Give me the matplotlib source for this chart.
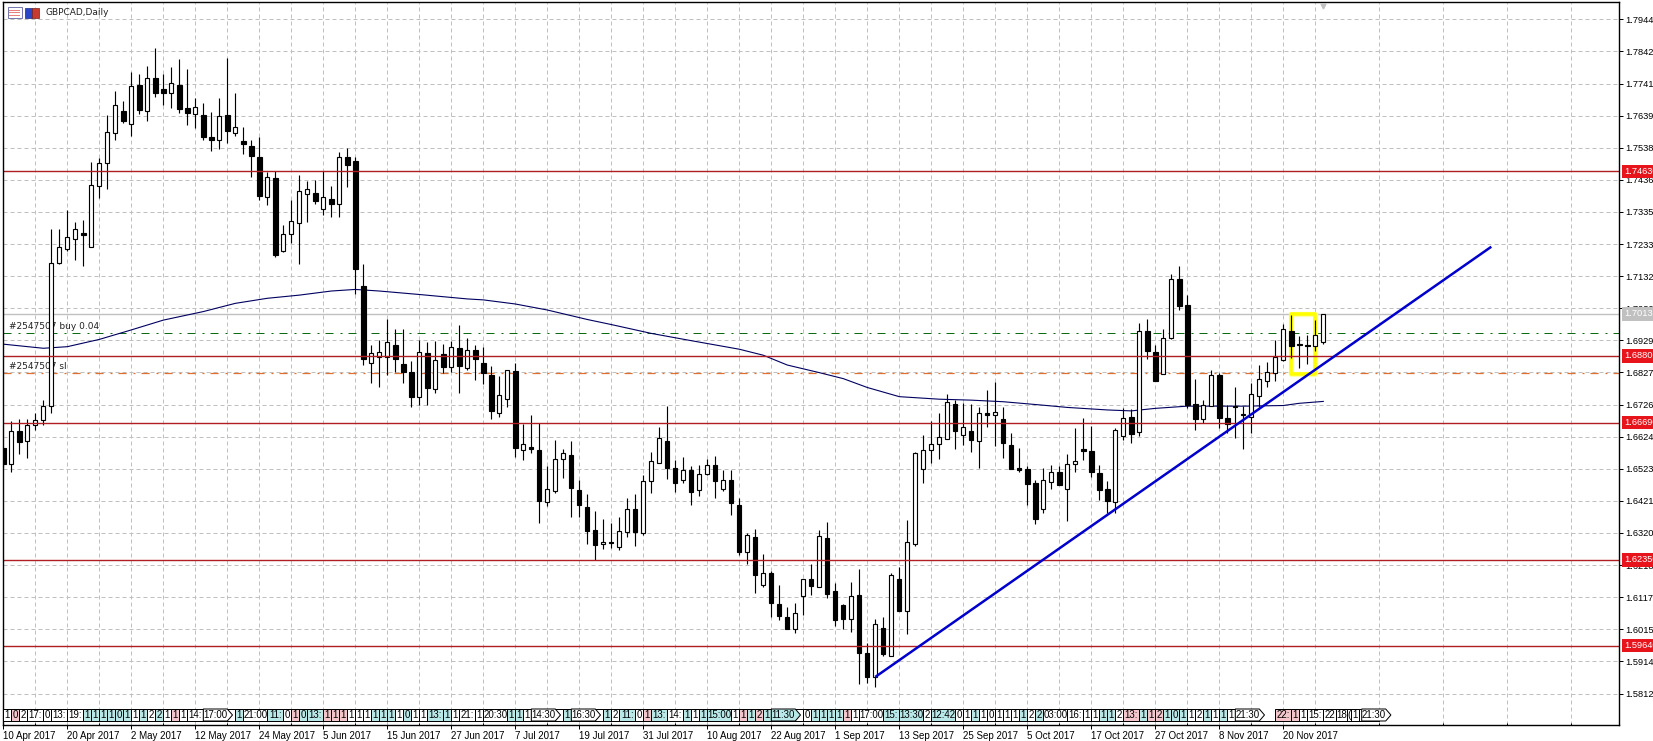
import matplotlib
matplotlib.use('Agg')
import matplotlib.pyplot as plt
from matplotlib.patches import Polygon, Rectangle
import numpy as np

# GBPCAD daily candles
opens = [1.6590, 1.6537, 1.6642, 1.6610, 1.6660, 1.6678, 1.6723, 1.7172, 1.7219, 1.7250,
         1.7268, 1.7225, 1.7418, 1.7489, 1.7583, 1.7654, 1.7614, 1.7736, 1.7655, 1.7758,
         1.7724, 1.7712, 1.7736, 1.7664, 1.7646, 1.7641, 1.7572, 1.7563, 1.7641, 1.7586,
         1.7559, 1.7543, 1.7509, 1.7383, 1.7442, 1.7212, 1.7264, 1.7301, 1.7393, 1.7395,
         1.7345, 1.7376, 1.7361, 1.7509, 1.7496, 1.7101, 1.6856, 1.6875, 1.6877, 1.6913,
         1.6854, 1.6830, 1.6751, 1.6888, 1.6776, 1.6885, 1.6846, 1.6905, 1.6842, 1.6900,
         1.6857, 1.6819, 1.6700, 1.6744, 1.6832, 1.6583, 1.6592, 1.6582, 1.6419, 1.6453,
         1.6555, 1.6566, 1.6455, 1.6401, 1.6328, 1.6286, 1.6293, 1.6276, 1.6324, 1.6395,
         1.6321, 1.6483, 1.6540, 1.6611, 1.6524, 1.6489, 1.6519, 1.6455, 1.6505, 1.6534,
         1.6460, 1.6489, 1.6407, 1.6261, 1.6306, 1.6156, 1.6195, 1.6097, 1.6056, 1.6015,
         1.6122, 1.6173, 1.6148, 1.6304, 1.6136, 1.6092, 1.6047, 1.6123, 1.5942, 1.5865,
         1.6021, 1.5930, 1.6176, 1.6074, 1.6285, 1.6523, 1.6581, 1.6600, 1.6616, 1.6727,
         1.6629, 1.6644, 1.6610, 1.6698, 1.6694, 1.6679, 1.6598, 1.6524, 1.6522, 1.6478,
         1.6397, 1.6480, 1.6512, 1.6460, 1.6539, 1.6584, 1.6579, 1.6509, 1.6459, 1.6419,
         1.6627, 1.6686, 1.6640, 1.6958, 1.6891, 1.6824, 1.6937, 1.7123, 1.7041, 1.6727,
         1.6679, 1.6723, 1.6818, 1.6682, 1.6717, 1.6692, 1.6688, 1.6754, 1.6801, 1.6825,
         1.6868, 1.6958, 1.6919, 1.6914, 1.6910, 1.6923]
highs = [1.6590, 1.6674, 1.6680, 1.6680, 1.6700, 1.6740, 1.7281, 1.7281, 1.7340, 1.7302,
         1.7309, 1.7492, 1.7504, 1.7640, 1.7716, 1.7685, 1.7776, 1.7771, 1.7796, 1.7852,
         1.7771, 1.7793, 1.7817, 1.7786, 1.7694, 1.7678, 1.7651, 1.7694, 1.7822, 1.7710,
         1.7602, 1.7561, 1.7572, 1.7460, 1.7464, 1.7294, 1.7373, 1.7451, 1.7432, 1.7436,
         1.7464, 1.7417, 1.7523, 1.7537, 1.7508, 1.7169, 1.6914, 1.6930, 1.6995, 1.6964,
         1.6964, 1.6865, 1.6930, 1.6925, 1.6927, 1.6917, 1.6928, 1.6977, 1.6938, 1.6914,
         1.6909, 1.6848, 1.6816, 1.6835, 1.6856, 1.6664, 1.6693, 1.6669, 1.6532, 1.6614,
         1.6584, 1.6611, 1.6489, 1.6442, 1.6389, 1.6363, 1.6353, 1.6369, 1.6432, 1.6442,
         1.6503, 1.6575, 1.6656, 1.6721, 1.6550, 1.6559, 1.6532, 1.6535, 1.6553, 1.6563,
         1.6519, 1.6519, 1.6432, 1.6319, 1.6334, 1.6253, 1.6201, 1.6155, 1.6085, 1.6100,
         1.6176, 1.6221, 1.6331, 1.6354, 1.6161, 1.6097, 1.6164, 1.6205, 1.5971, 1.6047,
         1.6053, 1.6195, 1.6211, 1.6361, 1.6576, 1.6630, 1.6673, 1.6698, 1.6759, 1.6740,
         1.6730, 1.6728, 1.6717, 1.6772, 1.6797, 1.6717, 1.6635, 1.6588, 1.6533, 1.6487,
         1.6527, 1.6535, 1.6533, 1.6570, 1.6651, 1.6685, 1.6658, 1.6535, 1.6484, 1.6651,
         1.6714, 1.6711, 1.6985, 1.6998, 1.6914, 1.6964, 1.7139, 1.7164, 1.7072, 1.6806,
         1.6740, 1.6835, 1.6827, 1.6724, 1.6780, 1.6721, 1.6795, 1.6851, 1.6860, 1.6930,
         1.6981, 1.7009, 1.6943, 1.6946, 1.6993, 1.7013]
lows = [1.6529, 1.6514, 1.6571, 1.6558, 1.6645, 1.6661, 1.6700, 1.7169, 1.7212, 1.7183,
        1.7164, 1.7225, 1.7380, 1.7407, 1.7562, 1.7616, 1.7575, 1.7645, 1.7623, 1.7698,
        1.7673, 1.7664, 1.7649, 1.7610, 1.7600, 1.7562, 1.7528, 1.7535, 1.7554, 1.7576,
        1.7518, 1.7446, 1.7373, 1.7358, 1.7193, 1.7209, 1.7236, 1.7171, 1.7303, 1.7360,
        1.7325, 1.7319, 1.7319, 1.7414, 1.7076, 1.6851, 1.6795, 1.6782, 1.6818, 1.6830,
        1.6795, 1.6719, 1.6724, 1.6724, 1.6763, 1.6827, 1.6830, 1.6763, 1.6835, 1.6803,
        1.6791, 1.6681, 1.6688, 1.6719, 1.6561, 1.6550, 1.6574, 1.6352, 1.6405, 1.6447,
        1.6495, 1.6371, 1.6371, 1.6286, 1.6236, 1.6269, 1.6273, 1.6266, 1.6308, 1.6279,
        1.6315, 1.6447, 1.6540, 1.6490, 1.6449, 1.6479, 1.6409, 1.6437, 1.6503, 1.6430,
        1.6453, 1.6378, 1.6250, 1.6222, 1.6131, 1.6150, 1.6055, 1.6045, 1.6015, 1.6005,
        1.6060, 1.6124, 1.6148, 1.6116, 1.6027, 1.6018, 1.6008, 1.5844, 1.5846, 1.5834,
        1.5932, 1.5930, 1.6074, 1.6002, 1.6280, 1.6479, 1.6542, 1.6555, 1.6616, 1.6586,
        1.6599, 1.6576, 1.6525, 1.6656, 1.6595, 1.6558, 1.6523, 1.6513, 1.6409, 1.6348,
        1.6384, 1.6460, 1.6473, 1.6359, 1.6513, 1.6550, 1.6498, 1.6424, 1.6382, 1.6382,
        1.6614, 1.6605, 1.6627, 1.6870, 1.6801, 1.6824, 1.6932, 1.7025, 1.6714, 1.6645,
        1.6669, 1.6723, 1.6651, 1.6635, 1.6621, 1.6585, 1.6637, 1.6719, 1.6782, 1.6800,
        1.6865, 1.6874, 1.6842, 1.6854, 1.6896, 1.6916]
closes = [1.6538, 1.6641, 1.6608, 1.6660, 1.6678, 1.6723, 1.7175, 1.7223, 1.7255, 1.7280,
          1.7262, 1.7419, 1.7489, 1.7587, 1.7672, 1.7623, 1.7732, 1.7658, 1.7760, 1.7712,
          1.7712, 1.7742, 1.7661, 1.7648, 1.7666, 1.7573, 1.7562, 1.7637, 1.7592, 1.7602,
          1.7551, 1.7512, 1.7386, 1.7444, 1.7199, 1.7264, 1.7305, 1.7400, 1.7406, 1.7369,
          1.7381, 1.7360, 1.7508, 1.7484, 1.7156, 1.6869, 1.6888, 1.6891, 1.6924, 1.6871,
          1.6830, 1.6751, 1.6893, 1.6779, 1.6867, 1.6846, 1.6907, 1.6849, 1.6900, 1.6870,
          1.6826, 1.6706, 1.6755, 1.6834, 1.6590, 1.6602, 1.6587, 1.6421, 1.6458, 1.6553,
          1.6572, 1.6463, 1.6409, 1.6327, 1.6283, 1.6293, 1.6289, 1.6325, 1.6395, 1.6324,
          1.6483, 1.6549, 1.6619, 1.6526, 1.6479, 1.6520, 1.6450, 1.6505, 1.6534, 1.6485,
          1.6489, 1.6416, 1.6261, 1.6315, 1.6188, 1.6194, 1.6099, 1.6058, 1.6015, 1.6066,
          1.6173, 1.6153, 1.6312, 1.6128, 1.6045, 1.6047, 1.6122, 1.5941, 1.5865, 1.6031,
          1.5938, 1.6186, 1.6074, 1.6293, 1.6572, 1.6581, 1.6600, 1.6625, 1.6733, 1.6643,
          1.6654, 1.6615, 1.6698, 1.6694, 1.6701, 1.6605, 1.6523, 1.6519, 1.6476, 1.6364,
          1.6486, 1.6512, 1.6473, 1.6537, 1.6548, 1.6580, 1.6513, 1.6456, 1.6421, 1.6647,
          1.6685, 1.6633, 1.6960, 1.6895, 1.6801, 1.6938, 1.7122, 1.7039, 1.6724, 1.6680,
          1.6725, 1.6818, 1.6684, 1.6666, 1.6721, 1.6695, 1.6758, 1.6806, 1.6828, 1.6875,
          1.6964, 1.6912, 1.6913, 1.6910, 1.6945, 1.7013]

# moving average, sampled along the bars
ma_bars = [0, 5, 8, 12, 16, 20, 25, 29, 33, 37, 41, 44, 47, 52, 58, 60, 64, 68, 73, 76, 81,
           86, 92, 95, 98, 102, 105, 108, 112, 117, 121, 125, 130, 133, 138, 141, 144, 148,
           155, 160, 162, 165]
ma_values = [1.6917, 1.6904, 1.6909, 1.6932, 1.6962, 1.6993, 1.7020, 1.7046, 1.7062, 1.7072,
             1.7085, 1.7090, 1.7085, 1.7074, 1.7060, 1.7057, 1.7044, 1.7025, 1.6995, 1.6979,
             1.6951, 1.6928, 1.6901, 1.6882, 1.6851, 1.6827, 1.6808, 1.6780, 1.6751, 1.6743,
             1.6740, 1.6735, 1.6724, 1.6717, 1.6709, 1.6706, 1.6714, 1.6721, 1.6721, 1.6723,
             1.6730, 1.6736]

# levels and drawn objects
level_prices = [1.7463, 1.6880, 1.6669, 1.6235, 1.5964]
last_price = 1.7013
buy_price = 1.6953
sl_price = 1.6826
trend_bars = [109, 186]
trend_prices = [1.5865, 1.7225]
box_bars = [161, 164]
box_prices = [1.6824, 1.7011]

price_ticks = [1.79440, 1.78425, 1.77410, 1.76395, 1.75380, 1.74365, 1.73350, 1.72335,
               1.71320, 1.70305, 1.69290, 1.68275, 1.67260, 1.66245, 1.65230, 1.64215,
               1.63200, 1.62185, 1.61170, 1.60155, 1.59140, 1.58125]
date_labels = ['10 Apr 2017', '20 Apr 2017', '2 May 2017', '12 May 2017', '24 May 2017',
               '5 Jun 2017', '15 Jun 2017', '27 Jun 2017', '7 Jul 2017', '19 Jul 2017',
               '31 Jul 2017', '10 Aug 2017', '22 Aug 2017', '1 Sep 2017', '13 Sep 2017',
               '25 Sep 2017', '5 Oct 2017', '17 Oct 2017', '27 Oct 2017', '8 Nov 2017',
               '20 Nov 2017']

# calendar events under the chart: n plain, c low impact, p high impact, x empty slot
event_labels = ['1', '0', '2', '17:', '0', '13:', '19:', '1', '1', '1', '1', '0', '1', '1', '1', '2',
                '2', '1', '1', '1', '14:', '17:00>', '1', '21:00', '11:', '0', '1', '0', '13:',
                '1', '1', '1', '1', '1', '1', '1', '1', '1', '1', '0', '1', '1', '13:', '1', '1',
                '21:', '1', '20:30', '1', '1', '1', '14:30>', '1', '16:30>', '1', '2', '11:', '0',
                '1', '13:', '14:', '1', '1', '1', '15:00', '1', '1', '1', '2', '1', '11:30>',
                '0', '1', '1', '1', '1', '1', '1', '17:00', '15:', '13:30', '2', '12:42', '0',
                '1', '1', '1', '0', '1', '1', '1', '1', '2', '2', '03:00', '16:', '1', '1', '1',
                '1', '2', '13:', '1', '1', '2', '1', '0', '1', '1', '2', '1', '1', '1', '1',
                '21:30>', '', '22:', '1', '1', '15:', '22', '18', '(', '1', '|', '21:30>']
event_levels = ['n', 'p', 'n', 'n', 'n', 'n', 'n', 'c', 'c', 'c', 'c', 'c', 'c', 'n', 'c', 'n',
                'c', 'n', 'p', 'n', 'n', 'n', 'c', 'n', 'c', 'n', 'p', 'c', 'c',
                'p', 'p', 'p', 'n', 'n', 'n', 'c', 'c', 'c', 'n', 'c', 'n', 'n', 'c', 'c', 'n',
                'n', 'n', 'n', 'c', 'c', 'n', 'n', 'c', 'n', 'c', 'n', 'c', 'n',
                'p', 'c', 'n', 'c', 'n', 'c', 'c', 'n', 'p', 'c', 'p', 'c', 'c',
                'n', 'c', 'c', 'c', 'c', 'p', 'n', 'n', 'c', 'c', 'n', 'c', 'n',
                'n', 'c', 'n', 'n', 'n', 'n', 'n', 'c', 'n', 'c', 'n', 'n', 'n', 'n', 'c',
                'c', 'n', 'p', 'c', 'p', 'p', 'c', 'c', 'c', 'n', 'n', 'c', 'n', 'c', 'n',
                'n', 'x', 'p', 'p', 'n', 'n', 'n', 'n', 'n', 'n', 'n', 'n']

GRID = '#c0c0c0'
RED = '#b01e23'
FONT = 'DejaVu Sans'
AXIS_FONT = 'Liberation Sans'
W, H = 1653, 741
LEFT, RIGHT, TOP, BOTTOM = 3.3, 1618.5, 2, 725
BAR_PX = 8.0
LW = 0.72  # one pixel at 100 dpi

fig = plt.figure(figsize=(W / 100, H / 100), dpi=100, facecolor='white')
ax = fig.add_axes([LEFT / W, (H - BOTTOM) / H, (RIGHT - LEFT) / W, (BOTTOM - TOP) / H])
ax.set_xlim(0, (RIGHT - LEFT) / BAR_PX)
ax.set_ylim(1.5713, 1.79987)
ax.set_axisbelow(True)

for spine in ax.spines.values():
    spine.set_linewidth(1.0)

# ticks and grid
ax.set_xticks(np.arange(len(date_labels)) * 8)
ax.set_xticklabels(date_labels, ha='left', fontsize=7, family=AXIS_FONT)
ax.set_xticks(np.arange(4, 202, 8), minor=True)
ax.tick_params(axis='x', which='major', length=3, width=LW, pad=1.2)
ax.tick_params(axis='x', which='minor', length=1.5, width=LW, direction='in')
ax.yaxis.tick_right()
ax.set_yticks(price_ticks)
ax.set_yticklabels([f'{p:.5f}' for p in price_ticks], fontsize=6.7, family=AXIS_FONT)
ax.tick_params(axis='y', length=3, width=LW, pad=2.2)
ax.grid(True, which='both', color=GRID, linewidth=LW, linestyle=(0, (4, 3)))

# trade labels sit under the candles
ax.text(0.7, 1.6972, '#2547507 buy 0.04', fontsize=6.5, family=FONT, color='#222222', va='center', zorder=0.8)
ax.text(0.7, 1.6846, '#2547507 sl', fontsize=6.5, family=FONT, color='#222222', va='center', zorder=0.8)

ax.axhline(last_price, color=GRID, linewidth=1.0, zorder=0.9)
ax.axhline(buy_price, color='#0c6a12', linewidth=LW, linestyle=(0, (8, 7, 2, 6)), zorder=0.9)
ax.axhline(sl_price, color='#e07030', linewidth=0.9, linestyle=(0, (6.5, 5.5, 1.6, 4.8)), zorder=0.9)

ax.plot(ma_bars, ma_values, color='#000060', linewidth=0.8, zorder=1.0)

# highlighted consolidation box
box_kw = dict(fill=False, joinstyle='round')
ax.add_patch(Rectangle((box_bars[0], box_prices[0]), box_bars[1] - box_bars[0], box_prices[1] - box_prices[0],
                       edgecolor='#ffffa8', linewidth=3.8, zorder=1.05, **box_kw))
ax.add_patch(Rectangle((box_bars[0], box_prices[0]), box_bars[1] - box_bars[0], box_prices[1] - box_prices[0],
                       edgecolor='#ffff00', linewidth=2.6, zorder=1.1, **box_kw))

# candles
bars = np.arange(len(opens))
o = np.array(opens)
c = np.array(closes)
up = c >= o
ax.vlines(bars, lows, highs, color='black', linewidth=LW + 0.1, zorder=1.5)
ax.bar(bars[up], (c - o)[up], bottom=o[up], width=0.5, color='white', edgecolor='black', linewidth=LW + 0.1, zorder=1.6)
ax.bar(bars[~up], (o - c)[~up], bottom=c[~up], width=0.55, color='black', edgecolor='black', linewidth=LW + 0.1, zorder=1.6)

# horizontal levels and the trend line go over the candles
for price in level_prices:
    ax.axhline(price, color=RED, linewidth=1.0, zorder=2.0)
ax.plot(trend_bars, trend_prices, color='#0000cd', linewidth=1.8, zorder=2.2, solid_capstyle='butt')

# price tags on the right edge
tag_x = (1624.5 - LEFT) / (RIGHT - LEFT)
for price in level_prices + [last_price]:
    tag_color = '#c0c0c0' if price == last_price else '#e8141c'
    ax.text(tag_x, price, f'{price:.4f}0', transform=ax.get_yaxis_transform(), color='white', fontsize=6.7,
            family=AXIS_FONT, va='center', ha='left', clip_on=False, zorder=5,
            bbox=dict(facecolor=tag_color, edgecolor='none', boxstyle='square,pad=0.25'))

# shift marker above the last bar
ax.plot([165], [0.995], marker='v', color=GRID, markersize=3.5, transform=ax.get_xaxis_transform(), clip_on=False, zorder=3)

# calendar row
row_low = (BOTTOM - 721) / (BOTTOM - TOP)
row_high = (BOTTOM - 709) / (BOTTOM - TOP)
row_mid = (row_low + row_high) / 2
row_trans = ax.get_xaxis_transform()
level_colors = {'n': 'white', 'c': '#b8e8e8', 'p': '#f5c6cc'}
narrow_widths = {'22': 1.6, '18': 1.4, '(': 0.5, '|': 0.3}

pos = 0.0
for n, (label, level) in enumerate(zip(event_labels, event_levels)):
    text = label.rstrip('>')
    width = narrow_widths.get(label, {0: 1, 1: 1, 2: 1.5, 3: 2, 5: 3}[len(text)])
    arrow = label.endswith('>')
    advance = width + 1 if arrow else width
    if level != 'x':
        right = pos + width
        corners = [(pos, row_low), (right, row_low), (right, row_high), (pos, row_high)]
        if arrow:
            # a squeezed event hides behind the arrow tip
            if n + 1 < len(event_labels) and event_labels[n + 1] != '':
                ax.add_patch(Polygon([(right, row_low), (right + 1, row_low), (right + 1, row_high), (right, row_high)],
                                     closed=True, facecolor='white', edgecolor='black', linewidth=LW,
                                     transform=row_trans, zorder=2.9))
            corners = [(pos, row_low), (right, row_low), (right + 0.65, row_mid), (right, row_high), (pos, row_high)]
        box = Polygon(corners, closed=True, facecolor=level_colors[level], edgecolor='black', linewidth=LW,
                      transform=row_trans, zorder=3)
        ax.add_patch(box)
        if text not in ('|', ''):
            t = ax.text(pos + width / 2, row_mid, text, transform=row_trans, fontsize=7, family=AXIS_FONT,
                        ha='center', va='center', zorder=3.1)
            t.set_clip_path(box)
    pos += advance
ax.plot([0, 172], [row_low, row_low], color='black', linewidth=LW, transform=row_trans, zorder=3)

# chart caption and window icons, placed in pixels
def px_rect(x, y, w, h, **kw):
    fig.add_artist(Rectangle((x / W, 1 - (y + h) / H), w / W, h / H, transform=fig.transFigure, **kw))

px_rect(7.5, 7, 14, 11, facecolor='white', edgecolor='#7878b0', linewidth=LW)
for row_y in (9.5, 12, 14.5):
    px_rect(9, row_y, 11, 1.2, facecolor='#e88080', edgecolor='none')
px_rect(24.5, 7.5, 7, 10.5, facecolor='#2a45c8', edgecolor='#1a2a80', linewidth=LW * 0.7)
px_rect(32, 7.5, 7, 10.5, facecolor='#c63a30', edgecolor='#7a2018', linewidth=LW * 0.7)
fig.text(45 / W, 1 - 12.7 / H, 'GBPCAD,Daily', fontsize=6.5, family=FONT, va='center', ha='left', color='#222222')

fig.savefig('out.png', dpi=100)
